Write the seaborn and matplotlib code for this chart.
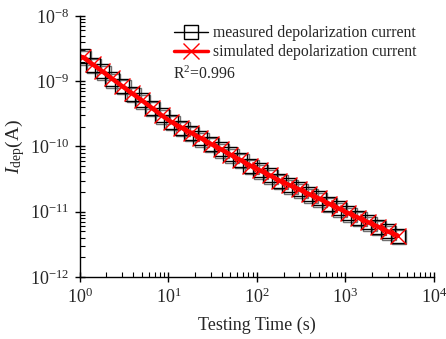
import numpy as np
import pandas as pd
import matplotlib
matplotlib.use("Agg")
import matplotlib.pyplot as plt
import matplotlib.transforms as mtransforms
from matplotlib.lines import Line2D
import seaborn as sns

# ---- data ----
time_s = [1.08, 1.40, 1.80, 2.30, 3.00, 3.90, 5.00, 6.50, 8.40, 10.8, 14.0, 18.0, 23.0,
          30.0, 39.0, 50.0, 65.0, 84.0, 108, 140, 180, 233, 300, 390, 500, 650, 840,
          1080, 1400, 1800, 2330, 3000, 3900]
measured = [2.40e-9, 1.80e-9, 1.42e-9, 1.08e-9, 8.5e-10, 6.4e-10, 5.1e-10, 3.9e-10,
            3.0e-10, 2.38e-10, 1.94e-10, 1.62e-10, 1.34e-10, 1.10e-10, 9.1e-11, 7.6e-11,
            6.2e-11, 5.1e-11, 4.3e-11, 3.6e-11, 3.0e-11, 2.55e-11, 2.2e-11, 1.85e-11,
            1.6e-11, 1.33e-11, 1.12e-11, 9.5e-12, 8.1e-12, 6.9e-12, 5.9e-12, 5.0e-12,
            4.3e-12]
simulated = [2.34e-9, 1.81e-9, 1.41e-9, 1.10e-9, 8.4e-10, 6.5e-10, 5.1e-10, 3.9e-10,
             3.0e-10, 2.37e-10, 1.95e-10, 1.62e-10, 1.35e-10, 1.10e-10, 9.1e-11, 7.5e-11,
             6.2e-11, 5.1e-11, 4.3e-11, 3.6e-11, 3.0e-11, 2.55e-11, 2.2e-11, 1.85e-11,
             1.6e-11, 1.33e-11, 1.12e-11, 9.5e-12, 8.1e-12, 6.9e-12, 5.9e-12, 5.0e-12,
             4.3e-12]
x_ticks = [1, 10, 100, 1000, 10000]
y_ticks = [1e-12, 1e-11, 1e-10, 1e-9, 1e-8]
legend_labels = ["measured depolarization current", "simulated depolarization current"]
r2_text = "R$^2$=0.996"
x_label = "Testing Time (s)"
y_label = r"$I_{\rm dep}$(A)"

df = pd.DataFrame({"t": time_s, "meas": measured, "sim": simulated})

sns.set_theme(style="ticks")
plt.rcParams["font.family"] = ["Liberation Serif", "DejaVu Serif"]
plt.rcParams["mathtext.fontset"] = "custom"
plt.rcParams["mathtext.rm"] = "Liberation Serif"
plt.rcParams["mathtext.it"] = "Liberation Serif:italic"
plt.rcParams["axes.unicode_minus"] = False

fig = plt.figure(figsize=(4.46, 3.39), dpi=100)
ax = fig.add_axes([0.179, 0.183, 0.794, 0.770])

# shadow of square markers (gray, offset)
shadow = mtransforms.offset_copy(ax.transData, fig=fig, x=1.5, y=-1.5, units="dots")
sns.lineplot(data=df, x="t", y="meas", ax=ax, color="#808080", marker="s",
             linestyle="none", transform=shadow)
l_shadow = ax.lines[-1]
l_shadow.set_markersize(10.5)
l_shadow.set_markerfacecolor("none")
l_shadow.set_markeredgecolor("#707070")
l_shadow.set_markeredgewidth(1.0)

sns.lineplot(data=df, x="t", y="meas", ax=ax, color="black", marker="s")
l_meas = ax.lines[-1]
l_meas.set_markersize(10.5)
l_meas.set_markerfacecolor("none")
l_meas.set_markeredgecolor("black")
l_meas.set_markeredgewidth(1.0)
l_meas.set_linewidth(1.0)

sns.lineplot(data=df, x="t", y="sim", ax=ax, color="red", marker="x")
l_sim = ax.lines[-1]
l_sim.set_linewidth(3.2)
l_sim.set_markersize(12)
l_sim.set_markeredgewidth(1.0)
l_sim.set_markeredgecolor("red")

ax.set_xscale("log")
ax.set_yscale("log")
ax.set_xlim(1, 1e4)
ax.set_ylim(1e-12, 1e-8)
ax.xaxis.set_major_locator(matplotlib.ticker.FixedLocator(x_ticks))
ax.yaxis.set_major_locator(matplotlib.ticker.FixedLocator(y_ticks))
ax.xaxis.set_major_formatter(matplotlib.ticker.LogFormatterSciNotation())
ax.yaxis.set_major_formatter(matplotlib.ticker.LogFormatterSciNotation())
ax.set_xlabel(x_label, fontsize=13, labelpad=7)
ax.set_ylabel(y_label, fontsize=14, labelpad=2)

ax.tick_params(which="major", direction="inout", length=7, width=1.0, labelsize=13,
               color="black", pad=4)
ax.tick_params(which="minor", direction="in", length=3.5, width=0.8, color="black")
ax.xaxis.set_minor_locator(matplotlib.ticker.LogLocator(base=10, subs=np.arange(2, 10)))
ax.yaxis.set_minor_locator(matplotlib.ticker.LogLocator(base=10, subs=np.arange(2, 10)))
ax.xaxis.set_minor_formatter(matplotlib.ticker.NullFormatter())
ax.yaxis.set_minor_formatter(matplotlib.ticker.NullFormatter())
for s in ["left", "bottom"]:
    ax.spines[s].set_color("black")
    ax.spines[s].set_linewidth(1.0)
sns.despine(ax=ax)

handles = [
    Line2D([], [], color="black", marker="s", markersize=10.5, markerfacecolor="none",
           markeredgecolor="black", linewidth=1.0),
    Line2D([], [], color="red", marker="x", markersize=12, markeredgewidth=1.0, linewidth=2.5),
]
ax.legend(handles, legend_labels, loc="upper left", bbox_to_anchor=(0.238, 1.0),
          frameon=False, fontsize=11.3, handlelength=2.2, handletextpad=0.3,
          labelspacing=0.2, borderaxespad=0.2)
ax.text(0.262, 0.775, r2_text, transform=ax.transAxes, fontsize=11.3, va="center", ha="left")

fig.savefig("out.png", dpi=100)
